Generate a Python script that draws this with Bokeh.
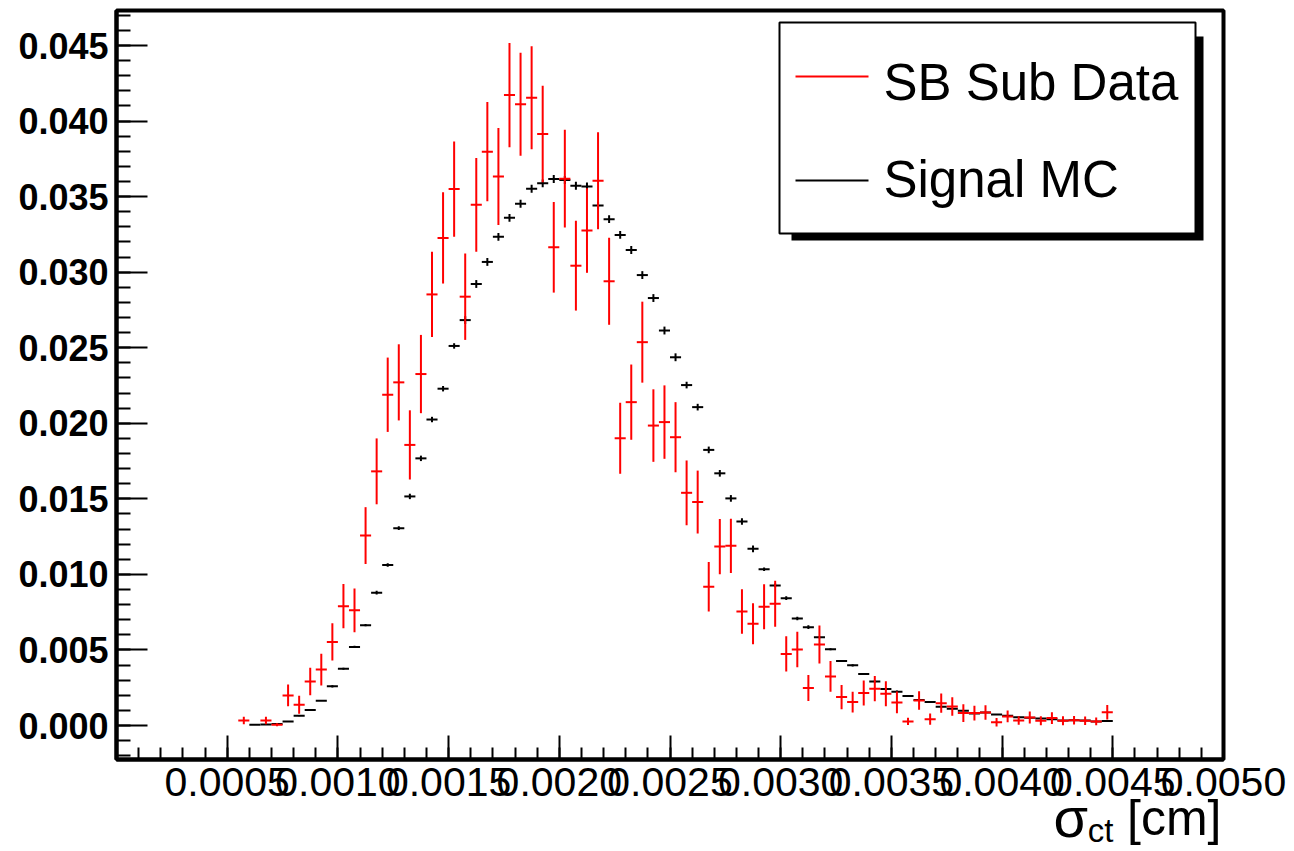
import numpy as np
from bokeh.plotting import figure
from bokeh.layouts import column
from bokeh.models import (ColumnDataSource, FixedTicker, NumeralTickFormatter,
                          Range1d, Label, BoxAnnotation)
from bokeh.embed import file_html
from bokeh.resources import INLINE

# ---------------- data ----------------
bin_width = 0.00005
first_bin_center = 0.000575   # bins 11 .. 89 of a 100-bin histogram on [0, 0.005]

sb_sub_data = [0.00033, None, 0.00033, 0.00005, 0.00199, 0.00137, 0.00292, 0.00370,
               0.00553, 0.00790, 0.00762, 0.01257, 0.01682, 0.02189, 0.02271, 0.01857,
               0.02326, 0.02853, 0.03227, 0.03550, 0.02838, 0.03446, 0.03798, 0.03634,
               0.04172, 0.04112, 0.04155, 0.03915, 0.03165, 0.03619, 0.03043, 0.03276,
               0.03606, 0.02940, 0.01901, 0.02140, 0.02537, 0.01985, 0.02008, 0.01908,
               0.01540, 0.01479, 0.00918, 0.01184, 0.01189, 0.00755, 0.00673, 0.00786,
               0.00806, 0.00474, 0.00503, 0.00248, 0.00536, 0.00325, 0.00188, 0.00155,
               0.00215, 0.00244, 0.00210, 0.00153, 0.00027, 0.00166, 0.00042, 0.00148,
               0.00126, 0.00082, 0.00082, 0.00086, 0.00022, 0.00060, 0.00033, 0.00053,
               0.00031, 0.00049, 0.00031, 0.00035, 0.00031, 0.00027, 0.00088]
sb_sub_err = [0.00025, None, 0.00025, 0.00010, 0.00072, 0.00060, 0.00091, 0.00105,
              0.00123, 0.00146, 0.00145, 0.00188, 0.00218, 0.00246, 0.00252, 0.00229,
              0.00259, 0.00282, 0.00302, 0.00315, 0.00286, 0.00310, 0.00329, 0.00321,
              0.00345, 0.00341, 0.00341, 0.00319, 0.00300, 0.00323, 0.00297, 0.00280,
              0.00321, 0.00288, 0.00235, 0.00249, 0.00268, 0.00240, 0.00243, 0.00232,
              0.00214, 0.00208, 0.00164, 0.00183, 0.00180, 0.00147, 0.00136, 0.00149,
              0.00152, 0.00116, 0.00118, 0.00086, 0.00126, 0.00102, 0.00080, 0.00069,
              0.00083, 0.00083, 0.00083, 0.00072, 0.00024, 0.00061, 0.00037, 0.00064,
              0.00061, 0.00058, 0.00049, 0.00048, 0.00028, 0.00039, 0.00028, 0.00039,
              0.00030, 0.00039, 0.00030, 0.00028, 0.00028, 0.00026, 0.00048]

signal_mc = [None, 0.00005, 0.00007, 0.00010, 0.00027, 0.00064, 0.00102, 0.00164,
             0.00259, 0.00376, 0.00520, 0.00664, 0.00879, 0.01062, 0.01306, 0.01516,
             0.01768, 0.02025, 0.02229, 0.02512, 0.02683, 0.02922, 0.03068, 0.03234,
             0.03360, 0.03453, 0.03552, 0.03588, 0.03617, 0.03610, 0.03572, 0.03568,
             0.03442, 0.03351, 0.03247, 0.03147, 0.02981, 0.02829, 0.02614, 0.02437,
             0.02253, 0.02107, 0.01824, 0.01669, 0.01503, 0.01350, 0.01169, 0.01034,
             0.00927, 0.00843, 0.00708, 0.00651, 0.00584, 0.00505, 0.00427, 0.00398,
             0.00341, 0.00292, 0.00241, 0.00224, 0.00195, 0.00168, 0.00155, 0.00124,
             0.00111, 0.00098, 0.00080, 0.00086, 0.00073, 0.00064, 0.00055, 0.00051,
             0.00046, 0.00042, 0.00033, 0.00035, 0.00033, 0.00027, 0.00029]
signal_mc_err = [None, 0.00002, 0.00002, 0.00002, 0.00002, 0.00002, 0.00002, 0.00002,
                 0.00007, 0.00007, 0.00007, 0.00007, 0.00012, 0.00012, 0.00012, 0.00018,
                 0.00018, 0.00018, 0.00018, 0.00018, 0.00026, 0.00026, 0.00026, 0.00026,
                 0.00026, 0.00026, 0.00026, 0.00026, 0.00026, 0.00026, 0.00026, 0.00026,
                 0.00026, 0.00026, 0.00026, 0.00026, 0.00026, 0.00026, 0.00026, 0.00026,
                 0.00022, 0.00022, 0.00022, 0.00022, 0.00022, 0.00022, 0.00022, 0.00012,
                 0.00012, 0.00012, 0.00012, 0.00012, 0.00007, 0.00007, 0.00007, 0.00007,
                 0.00007, 0.00007, 0.00007, 0.00007, 0.00003, 0.00003, 0.00003, 0.00003,
                 0.00003, 0.00003, 0.00003, 0.00003, 0.00003, 0.00003, 0.00003, 0.00003,
                 0.00003, 0.00003, 0.00003, 0.00003, 0.00003, 0.00003, 0.00003]

x_tick_values = [0.0005, 0.0010, 0.0015, 0.0020, 0.0025, 0.0030, 0.0035, 0.0040, 0.0045, 0.0050]
y_tick_values = [0.000, 0.005, 0.010, 0.015, 0.020, 0.025, 0.030, 0.035, 0.040, 0.045]

series_names = ["SB Sub Data", "Signal MC"]
x_title_symbol = "σ"
x_title_sub = "ct"
x_title_unit = "[cm]"

# ---------------- layout ----------------
X0, X1 = 0.0, 0.005
Y0, Y1 = -0.00225, 0.04732
FW, FH = 1107, 749
BL, BR, BT, BB = 116, 64, 10, 82
FRAME_L = BL
FRAME_T = BT
FONT = "Liberation Sans"
STRIP_TOP, STRIP_H = 770, 80          # strip holding the x-axis title, laid over the bottom
BASE_FIX = 0.31                       # Bokeh draws 'alphabetic' text this many em lower


def px2x(px):
    return X0 + (px - FRAME_L) / FW * (X1 - X0)


def px2y(py):
    return Y1 - (py - FRAME_T) / FH * (Y1 - Y0)


p = figure(frame_width=FW, frame_height=FH, min_border_left=BL, min_border_right=BR,
           min_border_top=BT, min_border_bottom=BB,
           x_range=Range1d(X0, X1), y_range=Range1d(Y0, Y1),
           output_backend="svg", toolbar_location=None, tools="")
p.title.visible = False
p.grid.visible = False
p.background_fill_color = "white"
p.border_fill_color = "white"
p.outline_line_color = "black"
p.outline_line_width = 4


def build(values, errors):
    xs, ys, es = [], [], []
    for i, (v, e) in enumerate(zip(values, errors)):
        if v is None:
            continue
        xs.append(first_bin_center + i * bin_width)
        ys.append(v)
        es.append(e)
    xs = np.array(xs); ys = np.array(ys); es = np.array(es)
    return ColumnDataSource(dict(x=xs, y=ys, xl=xs - bin_width / 2, xr=xs + bin_width / 2,
                                 lo=ys - es, hi=ys + es))


mc_src = build(signal_mc, signal_mc_err)
data_src = build(sb_sub_data, sb_sub_err)

for src, col in ((mc_src, "black"), (data_src, "#ff0000")):
    p.segment(x0="xl", y0="y", x1="xr", y1="y", source=src, line_color=col, line_width=2)
    p.segment(x0="x", y0="lo", x1="x", y1="hi", source=src, line_color=col, line_width=2)

# ---------------- axes ----------------
xa = p.xaxis[0]
xa.ticker = FixedTicker(ticks=x_tick_values,
                        minor_ticks=[round(0.0001 * i, 4) for i in range(0, 51)])
xa.formatter = NumeralTickFormatter(format="0.0000")
xa.major_tick_in = 24
xa.major_tick_out = 0
xa.minor_tick_in = 12
xa.minor_tick_out = 0
xa.major_tick_line_width = 2
xa.minor_tick_line_width = 2
xa.axis_line_width = 4
xa.major_label_text_font = FONT
xa.major_label_text_font_size = "41px"
xa.major_label_text_color = "black"
xa.major_label_standoff = 8

ya = p.yaxis[0]
ya.ticker = FixedTicker(ticks=y_tick_values,
                        minor_ticks=[round(0.001 * i, 3) for i in range(-2, 48)])
ya.formatter = NumeralTickFormatter(format="0.000")
ya.major_tick_in = 31
ya.major_tick_out = 0
ya.minor_tick_in = 14
ya.minor_tick_out = 0
ya.major_tick_line_width = 2
ya.minor_tick_line_width = 2
ya.axis_line_width = 4
ya.major_label_text_font = FONT
ya.major_label_text_font_size = "36px"
ya.major_label_text_font_style = "bold"
ya.major_label_text_color = "black"
ya.major_label_standoff = 8

# ---------------- legend (ROOT style with shadow) ----------------
p.add_layout(BoxAnnotation(left=px2x(791), right=px2x(1203), top=px2y(36), bottom=px2y(240),
                           fill_color="black", fill_alpha=1.0, line_color=None))
p.add_layout(BoxAnnotation(left=px2x(779), right=px2x(1195), top=px2y(22), bottom=px2y(233),
                           fill_color="white", fill_alpha=1.0, line_color="black",
                           line_alpha=1.0, line_width=2))
leg_src = ColumnDataSource(dict(x0=[px2x(795), px2x(795)], x1=[px2x(868), px2x(868)],
                                y=[px2y(76), px2y(180)], c=["#ff0000", "black"]))
leg_r = p.segment(x0="x0", y0="y", x1="x1", y1="y", source=leg_src, line_color="c",
                  line_width=2)
leg_r.level = "overlay"
LEG_FS = 51
for name, base in zip(series_names, (98, 195)):
    p.add_layout(Label(x=px2x(883), y=px2y(base - BASE_FIX * LEG_FS), text=name,
                       text_align="left", text_baseline="alphabetic", text_font=FONT,
                       text_font_size=f"{LEG_FS}px", text_color="black", level="overlay"))

# ---------------- x-axis title strip (transparent, laid over the bottom margin) ----------------
t = figure(frame_width=FW, frame_height=STRIP_H, min_border_left=BL, min_border_right=BR,
           min_border_top=0, min_border_bottom=0,
           x_range=Range1d(BL, BL + FW), y_range=Range1d(STRIP_TOP + STRIP_H, STRIP_TOP),
           x_axis_type=None, y_axis_type=None,
           output_backend="svg", toolbar_location=None, tools="")
t.title.visible = False
t.grid.visible = False
t.outline_line_color = None
t.background_fill_color = None
t.border_fill_color = None
t.styles = {"margin-top": f"-{BT + FH + BB - STRIP_TOP}px"}

for txt, xx, base, fs, align in ((x_title_unit, 1221, 833, 50, "right"),
                                 (x_title_sub, 1113, 840, 33, "right"),
                                 (x_title_symbol, 1053, 834, 56, "left")):
    t.add_layout(Label(x=xx, y=base - BASE_FIX * fs, text=txt, text_align=align,
                       text_baseline="alphabetic", text_font=FONT,
                       text_font_size=f"{fs}px", text_color="black"))

layout = column(p, t, spacing=0)
open("out.html", "w").write(file_html(layout, INLINE))
